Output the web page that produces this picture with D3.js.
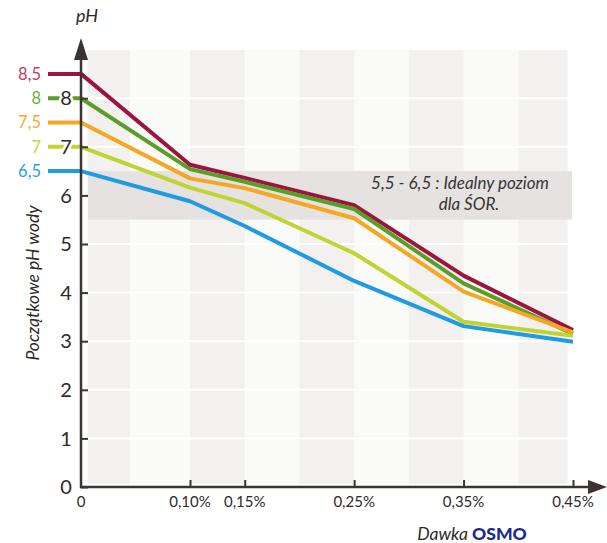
<!DOCTYPE html>
<html>
<head>
<meta charset="utf-8">
<script src="https://cdn.jsdelivr.net/npm/d3@7"></script>
<style>
  body { margin: 0; background: #fff; }
  svg { display: block; font-family: Lato, "Open Sans", sans-serif; }
</style>
</head>
<body>
<div id="chart"></div>
<script>
// dose of OSMO (%), x positions of the data points
const doses = [0, 0.10, 0.15, 0.25, 0.35, 0.45];
const doseLabels = ["0", "0,10%", "0,15%", "0,25%", "0,35%", "0,45%"];
const startLabels = ["8,5", "8", "7,5", "7", "6,5"];

// resulting pH per starting pH
const ph85 = [8.5, 6.63, 6.36, 5.80, 4.35, 3.23];
const ph80 = [8.0, 6.54, 6.28, 5.72, 4.19, 3.15];
const ph75 = [7.5, 6.35, 6.15, 5.53, 4.02, 3.18];
const ph70 = [7.0, 6.16, 5.84, 4.81, 3.40, 3.11];
const ph65 = [6.5, 5.88, 5.37, 4.24, 3.31, 2.99];

const yTicks = [0, 1, 2, 3, 4, 5, 6, 7, 8];
const idealBand = [5.5, 6.5];
// darker background columns (in dose units)
const stripes = [[0.006, 0.045], [0.10, 0.15], [0.20, 0.25], [0.30, 0.35], [0.40, 0.445]];

const series = [
  { label: startLabels[0], values: ph85, color: "#9b1540", text: "#c2405c" },
  { label: startLabels[1], values: ph80, color: "#5a9e28", text: "#6cae44" },
  { label: startLabels[2], values: ph75, color: "#f5a623", text: "#f6a93a" },
  { label: startLabels[3], values: ph70, color: "#bfd432", text: "#c2d83c" },
  { label: startLabels[4], values: ph65, color: "#1f9be0", text: "#2b9fe2" },
];

const width = 607, height = 543;
const axisColor = "#3a3433";

const svg = d3.select("#chart").append("svg")
  .attr("width", width)
  .attr("height", height);

// the first interval (0 -> 0,10%) is drawn shorter than the others
const x = d3.scaleLinear().domain([0, 0.10, 0.45]).range([81, 190, 573]);
const y = d3.scaleLinear().domain([0, 8]).range([487, 98.2]);

const plotLeft = 88, plotRight = 568, plotTop = 50, plotBottom = 484;

// plot background
svg.append("rect")
  .attr("x", plotLeft).attr("y", plotTop)
  .attr("width", plotRight - plotLeft).attr("height", plotBottom - plotTop)
  .attr("fill", "#fafaf9");

svg.append("g").selectAll("rect")
  .data(stripes)
  .join("rect")
  .attr("x", (d) => x(d[0]))
  .attr("y", plotTop)
  .attr("width", (d) => x(d[1]) - x(d[0]))
  .attr("height", plotBottom - plotTop)
  .attr("fill", "#f2f1f0");

// white grid lines
svg.append("g").selectAll("line")
  .data(yTicks.filter((d) => d > 0))
  .join("line")
  .attr("x1", plotLeft).attr("x2", plotRight)
  .attr("y1", (d) => y(d)).attr("y2", (d) => y(d))
  .attr("stroke", "#fff")
  .attr("stroke-width", 2);

// ideal pH band
svg.append("rect")
  .attr("x", plotLeft)
  .attr("y", y(idealBand[1]))
  .attr("width", 572 - plotLeft)
  .attr("height", y(idealBand[0]) - y(idealBand[1]))
  .attr("fill", "#e5e2e1");

svg.append("text")
  .attr("font-style", "italic")
  .attr("font-size", 17)
  .attr("fill", "#3a3433")
  .attr("text-anchor", "middle")
  .selectAll("tspan")
  .data([["5,5 - 6,5 : Idealny poziom", 460, 189], ["dla ŚOR.", 469, 210]])
  .join("tspan")
  .attr("x", (d) => d[1])
  .attr("y", (d) => d[2])
  .text((d) => d[0]);

// series lines, with a short stub left of the axis
const line = d3.line()
  .x((d) => d[0])
  .y((d) => d[1]);

svg.append("g").selectAll("path")
  .data(series)
  .join("path")
  .attr("d", (s) => line([[x(0) - 33, y(s.values[0])]]
    .concat(s.values.map((v, i) => [x(doses[i]), y(v)]))))
  .attr("fill", "none")
  .attr("stroke", (s) => s.color)
  .attr("stroke-width", 4)
  .attr("stroke-linejoin", "round");

svg.append("g").selectAll("text")
  .data(series)
  .join("text")
  .attr("x", x(0) - 40)
  .attr("y", (s) => y(s.values[0]))
  .attr("dy", "0.35em")
  .attr("text-anchor", "end")
  .attr("font-size", 16.5)
  .attr("fill", (s) => s.text)
  .text((s) => s.label);

// y axis
const yAxisG = svg.append("g").attr("transform", `translate(${x(0)},0)`);
yAxisG.call(d3.axisRight(y).tickValues(yTicks).tickSize(7).tickFormat(""));
yAxisG.select(".domain").remove();
yAxisG.selectAll(".tick line").attr("stroke", axisColor).attr("stroke-width", 2);

svg.append("g").selectAll("text")
  .data(yTicks)
  .join("text")
  .attr("x", x(0) - 15)
  .attr("y", (d) => y(d))
  .attr("dy", "0.36em")
  .attr("text-anchor", "middle")
  .attr("font-size", 20)
  .attr("fill", "#2e2a29")
  .attr("paint-order", "stroke")
  .attr("stroke", "#fff")
  .attr("stroke-width", 5)
  .text((d) => d);

svg.append("line")
  .attr("x1", x(0)).attr("x2", x(0))
  .attr("y1", y(0) + 1).attr("y2", 52)
  .attr("stroke", axisColor).attr("stroke-width", 2.5);
svg.append("path")
  .attr("d", `M${x(0)},38 L${x(0) + 7},60 L${x(0) - 7},60 Z`)
  .attr("fill", axisColor);

// x axis
const xAxisG = svg.append("g").attr("transform", `translate(0,${y(0)})`);
xAxisG.call(d3.axisTop(x).tickValues(doses.slice(1)).tickSize(7).tickFormat(""));
xAxisG.select(".domain").remove();
xAxisG.selectAll(".tick line").attr("stroke", axisColor).attr("stroke-width", 2);

svg.append("g").selectAll("text")
  .data(doses)
  .join("text")
  .attr("x", (d) => x(d))
  .attr("y", y(0) + 20)
  .attr("text-anchor", "middle")
  .attr("font-size", 15)
  .attr("fill", "#2e2a29")
  .text((d, i) => doseLabels[i]);

svg.append("line")
  .attr("x1", x(0) - 1).attr("x2", 592)
  .attr("y1", y(0)).attr("y2", y(0))
  .attr("stroke", axisColor).attr("stroke-width", 2.5);
svg.append("path")
  .attr("d", `M607,${y(0)} L588,${y(0) - 7} L588,${y(0) + 7} Z`)
  .attr("fill", axisColor);

// titles
svg.append("text")
  .attr("x", 87).attr("y", 22)
  .attr("text-anchor", "middle")
  .attr("font-style", "italic")
  .attr("font-size", 18)
  .attr("fill", "#2e2a29")
  .text("pH");

svg.append("text")
  .attr("transform", "translate(39,283) rotate(-90)")
  .attr("text-anchor", "middle")
  .attr("font-style", "italic")
  .attr("font-size", 17.5)
  .attr("fill", "#2e2a29")
  .text("Początkowe pH wody");

const xt = svg.append("text")
  .attr("x", 472).attr("y", 540)
  .attr("text-anchor", "middle")
  .attr("font-size", 17.5);
xt.append("tspan").attr("font-style", "italic").attr("fill", "#2e2a29").text("Dawka ");
xt.append("tspan").attr("font-weight", "900").attr("fill", "#1c2b8c").text("OSMO");
</script>
</body>
</html>
